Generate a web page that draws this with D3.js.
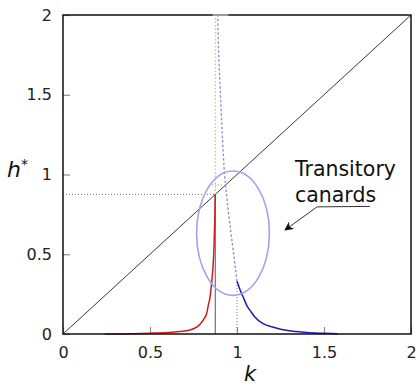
<!DOCTYPE html>
<html>
<head>
<meta charset="utf-8">
<script src="https://cdn.jsdelivr.net/npm/d3@7"></script>
<style>
  html, body { margin: 0; padding: 0; background: #fff; }
  svg { display: block; font-family: "DejaVu Sans", sans-serif; }
</style>
</head>
<body>
<svg id="chart" width="419" height="387"></svg>
<script>
// Stable branch before the canard point (k, h*)
const redBranch = [
  [0.24, 0.0], [0.4, 0.002], [0.5, 0.005], [0.6, 0.009], [0.67, 0.015],
  [0.73, 0.025], [0.77, 0.045], [0.79, 0.065], [0.81, 0.095], [0.826, 0.13],
  [0.835, 0.18], [0.845, 0.23], [0.855, 0.33], [0.862, 0.42], [0.868, 0.55],
  [0.872, 0.7], [0.875, 0.875]
];
// Stable branch after the critical value
const blueBranch = [
  [1.0, 0.33], [1.02, 0.27], [1.04, 0.22], [1.056, 0.18], [1.08, 0.14],
  [1.1, 0.11], [1.15, 0.065], [1.2, 0.045], [1.25, 0.03], [1.3, 0.02],
  [1.34, 0.015], [1.4, 0.009], [1.5, 0.004], [1.58, 0.001]
];
// Unstable continuation of the blue branch
const blueUnstable = [
  [1.0, 0.33], [0.99, 0.42], [0.975, 0.55], [0.96, 0.68], [0.945, 0.82],
  [0.93, 0.98], [0.918, 1.2], [0.905, 1.5], [0.895, 1.75], [0.889, 2.0]
];
// Unstable continuation of the red branch
const redUnstable = [[0.875, 0.875], [0.876, 1.4], [0.877, 2.0]];
const diagonal = [[0, 0], [2, 2]];
const kCanard = 0.875, hCanard = 0.875, kCrit = 1.0, hCrit = 0.33;
const xTicks = [0, 0.5, 1, 1.5, 2];
const yTicks = [0, 0.5, 1, 1.5, 2];
const ellipse = { k: 0.977, h: 0.632, rk: 0.209, rh: 0.39 };
const noteLines = ["Transitory", "canards"];
const notePos = [1.333, 0.993];
const arrowPath = [[1.764, 0.80], [1.46, 0.797], [1.276, 0.652]];

const svg = d3.select("#chart");
const m = { left: 63, right: 411, top: 15, bottom: 334 };
const x = d3.scaleLinear().domain([0, 2]).range([m.left, m.right]);
const y = d3.scaleLinear().domain([0, 2]).range([m.bottom, m.top]);
const line = d3.line().x(d => x(d[0])).y(d => y(d[1]));
const smooth = d3.line().x(d => x(d[0])).y(d => y(d[1])).curve(d3.curveMonotoneX);
const smoothY = d3.line().x(d => x(d[0])).y(d => y(d[1])).curve(d3.curveMonotoneY);

svg.append("defs").append("marker")
  .attr("id", "head").attr("viewBox", "0 0 10 10")
  .attr("refX", 9).attr("refY", 5)
  .attr("markerWidth", 9).attr("markerHeight", 9)
  .attr("markerUnits", "userSpaceOnUse")
  .attr("orient", "auto")
  .append("path").attr("d", "M0,0 L10,5 L0,10 L3,5 Z").attr("fill", "#111");

// Axes with inward ticks
const xAxis = svg.append("g").attr("transform", `translate(0,${m.bottom})`)
  .call(d3.axisBottom(x).tickValues(xTicks).tickFormat(d3.format("")).tickSize(-7).tickPadding(13));
const yAxis = svg.append("g").attr("transform", `translate(${m.left},0)`)
  .call(d3.axisLeft(y).tickValues(yTicks).tickFormat(d3.format("")).tickSize(-7).tickPadding(11));
[xAxis, yAxis].forEach(g => {
  g.select(".domain").remove();
  g.selectAll(".tick line").attr("stroke", "#8a8a8a").attr("stroke-width", 1.2);
  g.selectAll(".tick text").attr("font-size", 16).attr("fill", "#222")
    .attr("font-family", "DejaVu Sans, sans-serif");
});

// Guide lines
svg.append("line")
  .attr("x1", x(0)).attr("x2", x(kCanard)).attr("y1", y(hCanard)).attr("y2", y(hCanard))
  .attr("stroke", "#777").attr("stroke-width", 1).attr("stroke-dasharray", "1,2");
svg.append("line")
  .attr("x1", x(0.855)).attr("x2", x(0.92)).attr("y1", y(0.935)).attr("y2", y(0.935))
  .attr("stroke", "#999").attr("stroke-width", 1).attr("stroke-dasharray", "1,2");
svg.append("line")
  .attr("x1", x(kCrit)).attr("x2", x(kCrit)).attr("y1", y(0)).attr("y2", y(hCrit))
  .attr("stroke", "#777").attr("stroke-width", 1).attr("stroke-dasharray", "1,2");
svg.append("line")
  .attr("x1", x(kCanard)).attr("x2", x(kCanard)).attr("y1", y(0)).attr("y2", y(hCanard))
  .attr("stroke", "#555").attr("stroke-width", 1);

// Diagonal h* = k
svg.append("path").datum(diagonal).attr("d", line)
  .attr("fill", "none").attr("stroke", "#222").attr("stroke-width", 0.9);

// Unstable branches
svg.append("path").datum(redUnstable).attr("d", line)
  .attr("fill", "none").attr("stroke", "#f2b08a").attr("stroke-width", 1.3)
  .attr("stroke-dasharray", "1.5,2");
svg.append("path").datum(blueUnstable).attr("d", smoothY)
  .attr("fill", "none").attr("stroke", "#8c8ad6").attr("stroke-width", 1.3)
  .attr("stroke-dasharray", "2.5,2");

// Stable branches
svg.append("path").datum(redBranch).attr("d", smooth)
  .attr("fill", "none").attr("stroke", "#d01c1c").attr("stroke-width", 1.5);
svg.append("path").datum(blueBranch).attr("d", smooth)
  .attr("fill", "none").attr("stroke", "#1c1cb4").attr("stroke-width", 1.5);

// Transitory canards region
svg.append("ellipse")
  .attr("cx", x(ellipse.k)).attr("cy", y(ellipse.h))
  .attr("rx", x(ellipse.rk) - x(0)).attr("ry", y(0) - y(ellipse.rh))
  .attr("fill", "none").attr("stroke", "#a2a2ee").attr("stroke-width", 1.6);

// Frame
svg.append("rect")
  .attr("x", m.left).attr("y", m.top)
  .attr("width", m.right - m.left).attr("height", m.bottom - m.top)
  .attr("fill", "none").attr("stroke", "#111").attr("stroke-width", 1.5);
svg.append("line")
  .attr("x1", x(0.86)).attr("x2", x(0.95)).attr("y1", y(2)).attr("y2", y(2))
  .attr("stroke", "#9a9a9a").attr("stroke-width", 2);

// Annotation
const note = svg.append("text")
  .attr("x", x(notePos[0])).attr("y", y(notePos[1]))
  .attr("font-size", 20.5).attr("fill", "#111");
noteLines.forEach((t, i) => {
  note.append("tspan").attr("x", x(notePos[0])).attr("dy", i === 0 ? 0 : 26).text(t);
});
svg.append("path").datum(arrowPath).attr("d", line)
  .attr("fill", "none").attr("stroke", "#333").attr("stroke-width", 1)
  .attr("marker-end", "url(#head)");

// Axis titles
svg.append("text").attr("x", 250).attr("y", 381)
  .attr("text-anchor", "middle").attr("font-size", 21).attr("font-style", "italic")
  .attr("fill", "#111").text("k");
const ht = svg.append("text").attr("x", 7).attr("y", 177)
  .attr("font-size", 22).attr("font-style", "italic").attr("fill", "#111");
ht.append("tspan").text("h");
ht.append("tspan").attr("font-style", "normal").attr("font-size", 14)
  .attr("dy", -8).text("*");
</script>
</body>
</html>
